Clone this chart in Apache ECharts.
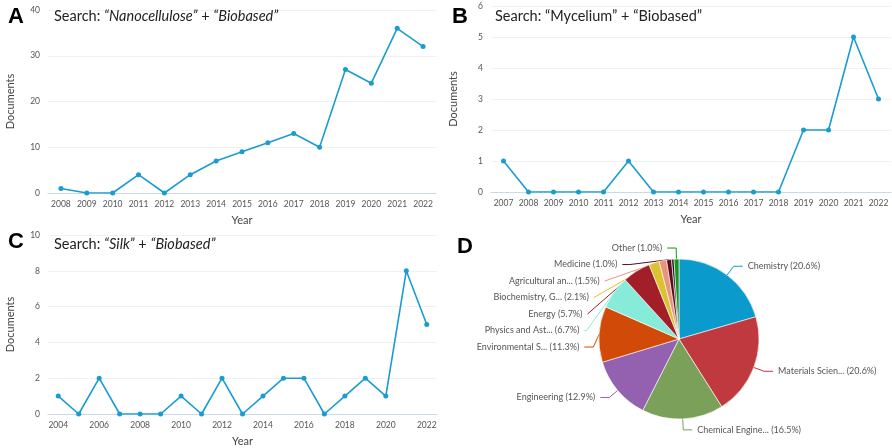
<!DOCTYPE html>
<html>
<head>
<meta charset="utf-8">
<script src="https://cdn.jsdelivr.net/npm/echarts@6/dist/echarts.min.js"></script>
<style>
  html, body { margin: 0; padding: 0; background: #fff; }
  #chart { width: 892px; height: 448px; }
</style>
</head>
<body>
<div id="chart"></div>
<script>
// panel A: nanocellulose
const yearsA = ['2008','2009','2010','2011','2012','2013','2014','2015','2016','2017','2018','2019','2020','2021','2022'];
const docsA = [1, 0, 0, 4, 0, 4, 7, 9, 11, 13, 10, 27, 24, 36, 32];
// panel B: mycelium
const yearsB = ['2007','2008','2009','2010','2011','2012','2013','2014','2015','2016','2017','2018','2019','2020','2021','2022'];
const docsB = [1, 0, 0, 0, 0, 1, 0, 0, 0, 0, 0, 0, 2, 2, 5, 3];
// panel C: silk
const yearsC = ['2004','2005','2006','2007','2008','2009','2010','2011','2012','2013','2014','2015','2016','2017','2018','2019','2020','2021','2022'];
const docsC = [1, 0, 2, 0, 0, 0, 1, 0, 2, 0, 1, 2, 2, 0, 1, 2, 1, 8, 5];
// panel D: subject areas
const subjectNames = ['Chemistry','Materials Scien...','Chemical Engine...','Engineering','Environmental S...','Physics and Ast...','Energy','Biochemistry, G...','Agricultural an...','Medicine','','Other'];
const subjectShares = [20.6, 20.6, 16.5, 12.9, 11.3, 6.7, 5.7, 2.1, 1.5, 1.0, 0.5, 1.0];
const subjectColors = ['#0a9acb','#c0393f','#7aa05a','#9461b0','#d24a08','#86ebd8','#a21f2a','#dcc231','#e8957c','#5a0d1e','#1b1b1b','#16961f'];

const lineColor = '#1b9cd0';
const tickFont = { fontSize: 8.5, color: '#555', fontFamily: 'Lato' };
const nameFont = { fontSize: 11, color: '#444', fontFamily: 'Lato' };

function xAx(idx, data, interval) {
    return {
        type: 'category', gridIndex: idx, data: data,
        name: 'Year', nameLocation: 'middle', nameGap: 22, nameTextStyle: nameFont,
        axisLine: { lineStyle: { color: '#c9d9e6' } },
        axisTick: { show: false },
        axisLabel: Object.assign({ interval: interval, margin: 7 }, tickFont)
    };
}
function yAx(idx, max, step) {
    return {
        type: 'value', gridIndex: idx, min: 0, max: max, interval: step,
        name: 'Documents', nameLocation: 'middle', nameGap: 32, nameTextStyle: nameFont,
        axisLine: { show: false }, axisTick: { show: false },
        axisLabel: Object.assign({ margin: 8 }, tickFont),
        splitLine: { lineStyle: { color: '#eef1f5' } }
    };
}
function lineSeries(idx, data) {
    return {
        type: 'line', xAxisIndex: idx, yAxisIndex: idx, data: data,
        symbol: 'circle', symbolSize: 5,
        lineStyle: { color: lineColor, width: 1.6 },
        itemStyle: { color: lineColor },
        silent: true
    };
}

const titleRich = {
    n: { fontSize: 14.5, color: '#222', fontFamily: 'Lato', fontWeight: 'normal' },
    i: { fontSize: 14.5, color: '#222', fontFamily: 'Lato', fontWeight: 'normal', fontStyle: 'italic' }
};
const titleStyle = { fontWeight: 'normal', rich: titleRich };
const letterStyle = { fontSize: 22, fontWeight: 'bold', color: '#000', fontFamily: 'Liberation Sans' };

let chart = echarts.init(document.getElementById('chart'));
let option = {
    animation: false,
    title: [
        { text: 'A', left: 3, top: 1, textStyle: letterStyle },
        { text: 'B', left: 447, top: 1, textStyle: letterStyle },
        { text: 'C', left: 3, top: 226, textStyle: letterStyle },
        { text: 'D', left: 452, top: 231, textStyle: letterStyle },
        { text: '{n|Search: }{i|“Nanocellulose”}{n| + }{i|“Biobased”}', left: 49, top: 4, textStyle: titleStyle },
        { text: '{n|Search: “Mycelium” + “Biobased”}', left: 490, top: 4, textStyle: titleStyle },
        { text: '{n|Search: }{i|“Silk”}{n| + }{i|“Biobased”}', left: 49, top: 232, textStyle: titleStyle }
    ],
    grid: [
        { left: 48, right: 456, top: 10, bottom: 255 },
        { left: 491, right: 1, top: 6, bottom: 256 },
        { left: 48, right: 455, top: 235, bottom: 29 }
    ],
    xAxis: [xAx(0, yearsA, 0), xAx(1, yearsB, 0), xAx(2, yearsC, 1)],
    yAxis: [yAx(0, 40, 10), yAx(1, 6, 1), yAx(2, 10, 2)],
    series: [
        lineSeries(0, docsA),
        lineSeries(1, docsB),
        lineSeries(2, docsC),
        {
            type: 'pie',
            center: [679, 339],
            radius: 80,
            startAngle: 90,
            silent: true,
            itemStyle: { borderColor: '#fff', borderWidth: 0.6 },
            label: {
                formatter: function (p) { return p.name ? p.name + ' (' + p.value.toFixed(1) + '%)' : ''; },
                fontSize: 9, lineHeight: 14.5, color: '#555', fontFamily: 'Lato',
                overflow: 'none'
            },
            labelLine: { length: 11, length2: 9, lineStyle: { width: 1 } },
            data: subjectNames.map(function (n, i) {
                let d = { name: n, value: subjectShares[i], itemStyle: { color: subjectColors[i] } };
                if (!n) { d.label = { show: false }; d.labelLine = { show: false }; }
                return d;
            })
        }
    ]
};
chart.setOption(option);
</script>
</body>
</html>
